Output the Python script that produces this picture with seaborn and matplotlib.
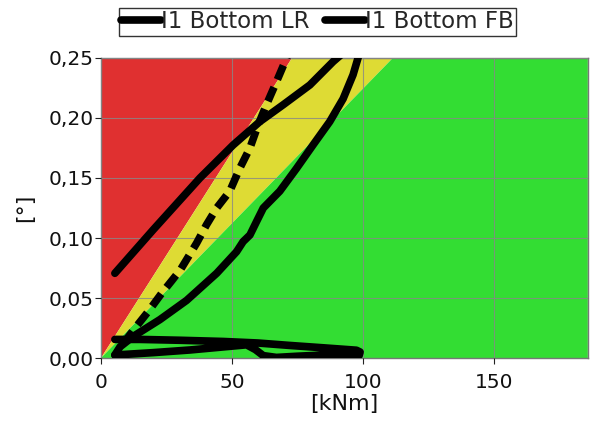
import matplotlib
matplotlib.use("Agg")
import matplotlib.pyplot as plt
import seaborn as sns
import pandas as pd

# Hysteresis loop of rotation against moment
lr_x = [5.3, 20, 37.8, 50.5, 60.7, 69.6, 79.8, 88.7, 92.4, 96, 99.5, 98.2, 96.3,
        92.5, 87.4, 81, 74.7, 68.3, 62, 59.4, 56.9, 54.3, 51.8, 44.2, 32.7,
        22.5, 12.3, 7.3, 5.3]
lr_y = [0.0706, 0.107, 0.150, 0.1775, 0.197, 0.211, 0.2275, 0.247, 0.254, 0.262,
        0.262, 0.25, 0.236, 0.216, 0.197, 0.1775, 0.158, 0.139, 0.125, 0.1136,
        0.1025, 0.097, 0.0886, 0.0706, 0.048, 0.032, 0.018, 0.0094, 0.0025]

# Near-zero loop along the moment axis
fb_x = [5.3, 20, 34, 48, 55.6, 59, 62, 67, 75, 85, 95, 98.6, 99, 97.6, 85, 72,
        60, 46.7, 30, 15, 5.3]
fb_y = [0.0025, 0.0045, 0.0067, 0.0095, 0.011, 0.007, 0.002, 0.0005, 0.0015,
        0.0025, 0.003, 0.002, 0.005, 0.0065, 0.0085, 0.0105, 0.0125, 0.0138,
        0.0148, 0.0155, 0.0155]

# Dashed reference path
ref_x = [8.5, 12.3, 18, 23.2, 30.2, 36.5, 40.3, 44.2, 49.2, 53, 56.9, 60, 63.2,
         67, 70.9, 72.5]
ref_y = [0.012, 0.023, 0.0386, 0.054, 0.073, 0.0956, 0.111, 0.125, 0.139, 0.158,
         0.175, 0.194, 0.211, 0.230, 0.25, 0.26]

# Zone boundaries: moment where each zone edge meets the top of the range
zone_top = [73.0, 111.5]
zone_colors = ["#E03030", "#DEDB34", "#33DD33"]

x_max = 186
y_max = 0.25
x_ticks = [0, 50, 100, 150]
y_ticks = [0.00, 0.05, 0.10, 0.15, 0.20, 0.25]
y_tick_labels = ["0,00", "0,05", "0,10", "0,15", "0,20", "0,25"]

sns.set_style("white")
plt.rcParams["font.family"] = ["DejaVu Sans"]

fig = plt.figure(figsize=(5.92, 4.25), dpi=100)
ax = fig.add_axes([0.1706, 0.1576, 0.8224, 0.706])

# Colored zones
ax.fill([0, 0, zone_top[0]], [0, y_max, y_max], color=zone_colors[0], lw=0, zorder=0)
ax.fill([0, zone_top[0], zone_top[1]], [0, y_max, y_max], color=zone_colors[1], lw=0, zorder=0)
ax.fill([0, zone_top[1], x_max, x_max], [0, y_max, y_max, 0], color=zone_colors[2], lw=0, zorder=0)

df_lr = pd.DataFrame({"x": lr_x, "y": lr_y})
df_fb = pd.DataFrame({"x": fb_x, "y": fb_y})
df_ref = pd.DataFrame({"x": ref_x, "y": ref_y})

lw = 5.5
sns.lineplot(data=df_lr, x="x", y="y", sort=False, estimator=None, ax=ax,
             color="black", lw=lw, label="I1 Bottom LR", zorder=3,
             solid_capstyle="round", solid_joinstyle="round")
sns.lineplot(data=df_fb, x="x", y="y", sort=False, estimator=None, ax=ax,
             color="black", lw=lw, label="I1 Bottom FB", zorder=3,
             solid_capstyle="round", solid_joinstyle="round")
sns.lineplot(data=df_ref, x="x", y="y", sort=False, estimator=None, ax=ax,
             color="black", lw=lw, linestyle=(0, (2.0, 1.1)), label="_nolegend_",
             zorder=3)

ax.set_xlim(0, x_max)
ax.set_ylim(0, y_max)
ax.set_xticks(x_ticks)
ax.set_yticks(y_ticks)
ax.set_yticklabels(y_tick_labels)
ax.tick_params(labelsize=14.5, colors="#222222", length=4, width=0.8,
               direction="out", left=True, bottom=True, pad=1)
ax.tick_params(axis="x", pad=7)
for t in ax.get_xticklabels() + ax.get_yticklabels():
    t.set_color("#111111")

ax.grid(True, color="#888888", lw=0.8, alpha=0.8)
ax.set_axisbelow(False)
for gl in ax.get_xgridlines() + ax.get_ygridlines():
    gl.set_zorder(1)

for s in ax.spines.values():
    s.set_color("#777777")
    s.set_linewidth(1.0)

ax.set_xlabel("[kNm]", fontsize=16, color="#111111", labelpad=0)
ax.xaxis.set_label_coords(0.5, -0.12)
ax.set_ylabel("[°]", fontsize=16, color="#111111")
ax.yaxis.set_label_coords(-0.135, 0.5)

leg = ax.legend(loc="center", bbox_to_anchor=(0.4446, 1.12), ncol=2, fontsize=16.5,
                frameon=True, fancybox=False, edgecolor="black",
                handlelength=1.75, handletextpad=0.0, columnspacing=0.65,
                borderpad=0.1, borderaxespad=0)
leg.get_frame().set_linewidth(1.0)

fig.savefig("out.png", dpi=100)
